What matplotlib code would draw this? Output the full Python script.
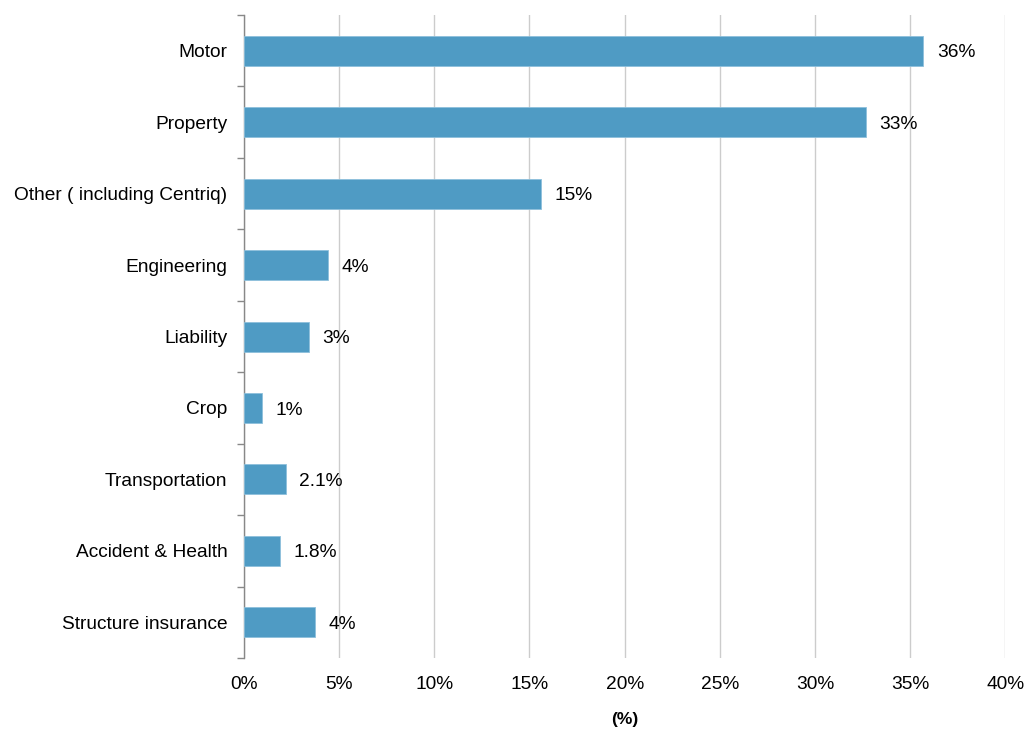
import matplotlib.pyplot as plt
import numpy as np

plt.rcParams['font.family'] = ['Liberation Sans', 'DejaVu Sans']

# Daten
categories = ['Motor', 'Property', 'Other ( including Centriq)', 'Engineering',
              'Liability', 'Crop', 'Transportation', 'Accident & Health',
              'Structure insurance']
values = [35.7, 32.7, 15.6, 4.4, 3.4, 0.95, 2.2, 1.9, 3.75]
value_labels = ['36%', '33%', '15%', '4%', '3%', '1%', '2.1%', '1.8%', '4%']

fig = plt.figure(figsize=(10.26, 7.29), dpi=100)
ax = fig.add_axes([0.2378, 0.0974, 0.742, 0.882])

y = np.arange(len(categories))
ax.barh(y, values, height=0.42, color='#4F9BC4', edgecolor='#8DC0DC', linewidth=0.6, zorder=3)

ax.set_ylim(len(categories) - 0.5, -0.5)
ax.set_xlim(0, 40)

ax.set_xticks(np.arange(0, 41, 5))
ax.set_xticklabels([f'{v}%' for v in range(0, 41, 5)], fontsize=13.8)
ax.tick_params(axis='x', length=0, pad=13)

ax.set_yticks(y)
ax.set_yticklabels(categories, fontsize=13.8)
ax.tick_params(axis='y', which='major', length=0, pad=12)
ax.set_yticks(np.arange(-0.5, len(categories), 1), minor=True)
ax.tick_params(axis='y', which='minor', length=5, width=1, color='#888888')

ax.grid(axis='x', color='#CCCCCC', linewidth=1, zorder=0)
for s in ['top', 'right', 'bottom']:
    ax.spines[s].set_visible(False)
ax.spines['left'].set_color('#888888')
ax.spines['left'].set_linewidth(1)

# Werte neben den Balken anzeigen
for i, (v, lab) in enumerate(zip(values, value_labels)):
    ax.text(v + 0.7, i + 0.03, lab, va='center', ha='left', fontsize=13.8)

ax.set_xlabel('(%)', fontsize=12.5, fontweight='bold', labelpad=14)

fig.savefig('out.png', dpi=100)
